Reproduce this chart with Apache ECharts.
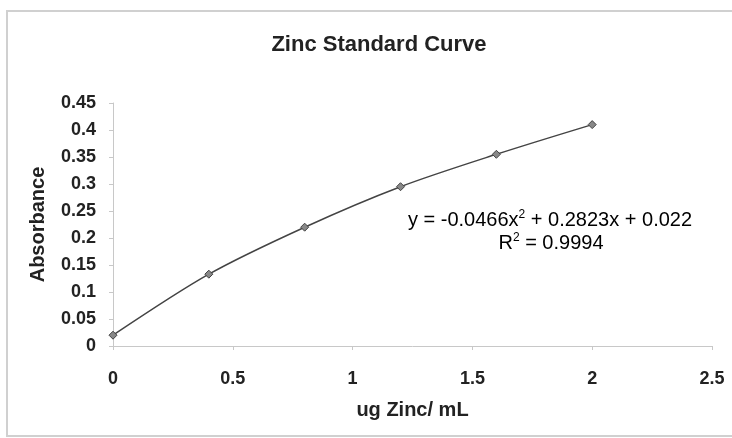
<!DOCTYPE html>
<html><head><meta charset="utf-8">
<script src="https://cdn.jsdelivr.net/npm/echarts@6/dist/echarts.min.js"></script>
<style>html,body{margin:0;padding:0;background:#fff}#c{width:732px;height:438px}</style>
</head><body><div id="c"></div>
<script>
const concentrations = [0, 0.4, 0.8, 1.2, 1.6, 2.0];
const absorbance = [0.02, 0.133, 0.22, 0.295, 0.355, 0.41];
const titleText = 'Zinc Standard Curve';
const xName = 'ug Zinc/ mL';
const yName = 'Absorbance';
const eqLine1 = ['y = -0.0466x', '2', ' + 0.2823x + 0.022'];
const eqLine2 = ['R', '2', ' = 0.9994'];

const chart = echarts.init(document.getElementById('c'), null, {renderer: 'canvas'});
const font = 'Liberation Sans, Arial, sans-serif';
const richStyle = {
  a: {fontFamily: font, fontSize: 20, color: '#222'},
  s: {fontFamily: font, fontSize: 12, color: '#222', verticalAlign: 'top', padding: [0, 0, 10, 0]}
};
chart.setOption({
  animation: false,
  backgroundColor: '#fff',
  title: {text: titleText, left: 374, top: 29, textAlign: 'center',
    textStyle: {fontFamily: font, fontWeight: 'bold', fontSize: 22, color: '#222'}},
  grid: {left: 113, right: 20, top: 103, bottom: 92},
  xAxis: {type: 'value', min: 0, max: 2.5, interval: 0.5,
    name: xName, nameLocation: 'middle', nameGap: 54,
    nameTextStyle: {fontFamily: font, fontWeight: 'bold', fontSize: 20, color: '#222'},
    axisLine: {lineStyle: {color: '#c8c8c8', width: 1}},
    axisTick: {show: true, inside: false, length: 4, lineStyle: {color: '#c8c8c8'}},
    splitLine: {show: false},
    axisLabel: {fontFamily: font, fontWeight: 'bold', fontSize: 18, color: '#222', margin: 24}},
  yAxis: {type: 'value', min: 0, max: 0.45, interval: 0.05,
    name: yName, nameLocation: 'middle', nameGap: 65, nameRotate: 90,
    nameTextStyle: {fontFamily: font, fontWeight: 'bold', fontSize: 20, color: '#222'},
    axisLine: {show: true, lineStyle: {color: '#c8c8c8', width: 1}},
    axisTick: {show: true, length: 4, lineStyle: {color: '#c8c8c8'}},
    splitLine: {show: false},
    axisLabel: {fontFamily: font, fontWeight: 'bold', fontSize: 18, color: '#222', margin: 17,
      formatter: v => String(Math.round(v * 100) / 100)}},
  series: [{
    type: 'line', smooth: 0.3,
    data: concentrations.map((x, i) => [x, absorbance[i]]),
    symbol: 'diamond', symbolSize: 8,
    lineStyle: {color: '#444', width: 1.5},
    itemStyle: {color: '#888', borderColor: '#444', borderWidth: 1}
  }],
  graphic: [
    {type: 'rect', shape: {x: 7, y: 11, width: 740, height: 425}, silent: true,
      style: {fill: 'none', stroke: '#d0d0d0', lineWidth: 2}},
    {type: 'text', x: 550, y: 220,
      style: {text: '{a|' + eqLine1[0] + '}{s|' + eqLine1[1] + '}{a|' + eqLine1[2] + '}',
        align: 'center', verticalAlign: 'middle', rich: richStyle}},
    {type: 'text', x: 551, y: 243,
      style: {text: '{a|' + eqLine2[0] + '}{s|' + eqLine2[1] + '}{a|' + eqLine2[2] + '}',
        align: 'center', verticalAlign: 'middle', rich: richStyle}}
  ]
});
</script></body></html>
